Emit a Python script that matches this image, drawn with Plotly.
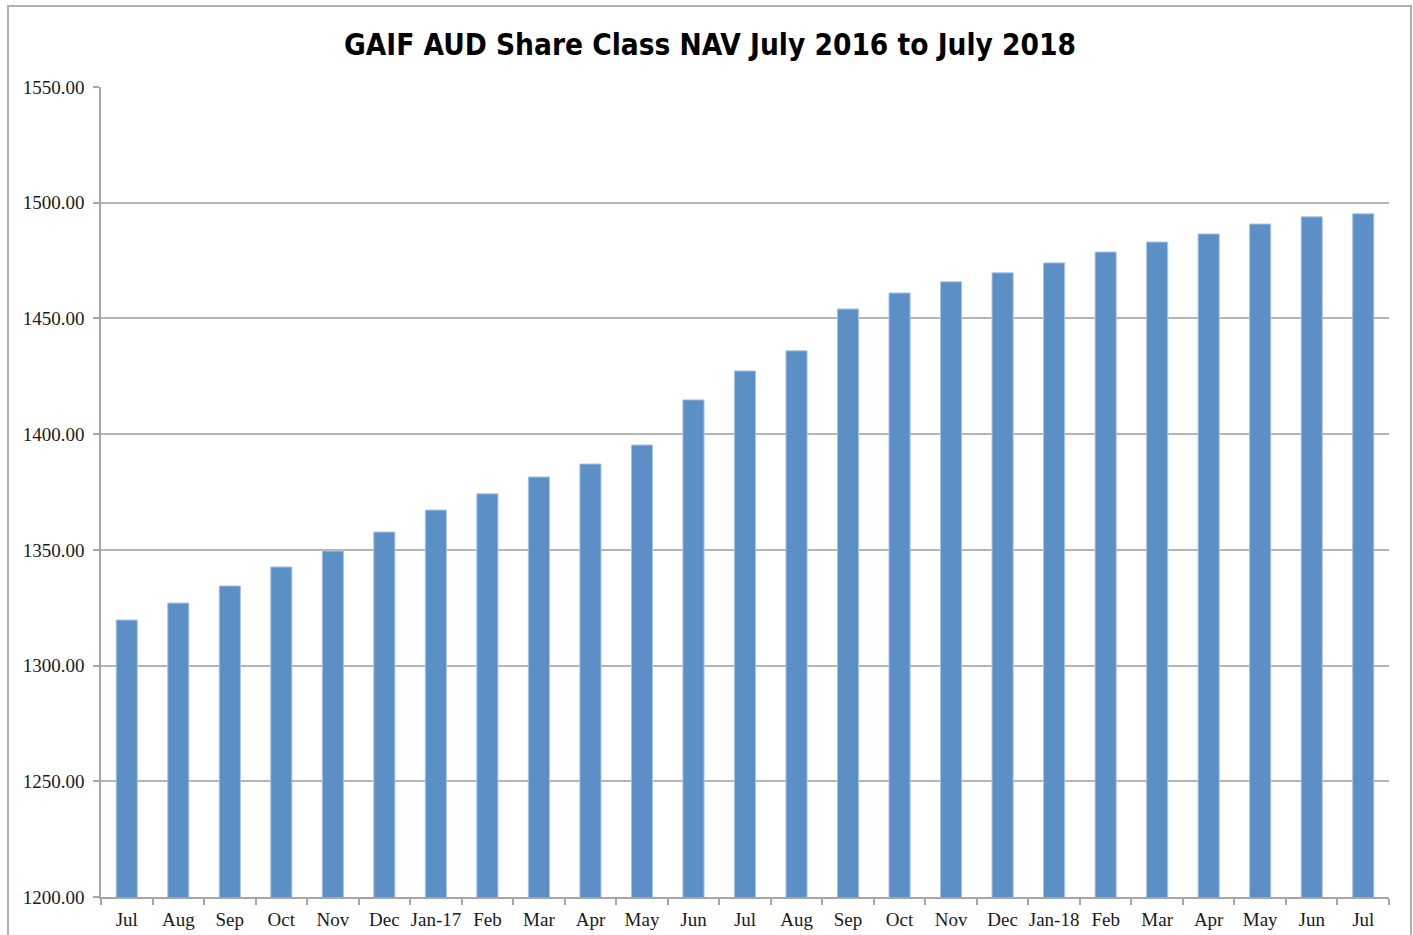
import plotly.graph_objects as go

month_labels = ["Jul", "Aug", "Sep", "Oct", "Nov", "Dec", "Jan-17", "Feb", "Mar", "Apr", "May", "Jun",
                "Jul", "Aug", "Sep", "Oct", "Nov", "Dec", "Jan-18", "Feb", "Mar", "Apr", "May", "Jun", "Jul"]
category_keys = ["2016-07", "2016-08", "2016-09", "2016-10", "2016-11", "2016-12", "2017-01", "2017-02",
                 "2017-03", "2017-04", "2017-05", "2017-06", "2017-07", "2017-08", "2017-09", "2017-10",
                 "2017-11", "2017-12", "2018-01", "2018-02", "2018-03", "2018-04", "2018-05", "2018-06",
                 "2018-07"]
nav_values = [1319.7, 1327.0, 1334.4, 1342.6, 1349.5, 1357.7, 1367.2, 1374.2, 1381.5, 1387.1, 1395.3,
              1414.8, 1427.3, 1436.0, 1454.1, 1461.0, 1465.8, 1469.7, 1474.0, 1478.7, 1483.0, 1486.5,
              1490.8, 1493.9, 1495.2]
y_ticks = [1200, 1250, 1300, 1350, 1400, 1450, 1500, 1550]
y_tick_labels = ["%.2f" % v for v in y_ticks]

fig = go.Figure(go.Bar(
    x=category_keys, y=nav_values,
    marker=dict(color="#5B8FC6", line=dict(color="#A9C4E4", width=1)),
    hoverinfo="x+y",
))

tick_font = dict(family="Liberation Serif, DejaVu Serif, serif", size=19, color="#1a1a1a")

fig.update_layout(
    width=1413, height=935,
    paper_bgcolor="white", plot_bgcolor="white",
    margin=dict(l=101, r=24, t=87, b=38, autoexpand=False),
    bargap=0.59,
    showlegend=False,
    title=dict(text="<b>GAIF AUD Share Class NAV July 2016 to July 2018</b>",
               x=710 / 1413, xref="container", y=0.952, yref="container", xanchor="center", yanchor="middle",
               font=dict(family="DejaVu Sans Condensed, Liberation Sans Narrow, Liberation Sans, sans-serif",
                         size=29.5, color="#000000")),
    xaxis=dict(type="category", tickvals=category_keys, ticktext=month_labels,
               tickson="boundaries", ticks="outside", ticklen=6, tickcolor="#a6a6a6", tickwidth=1.5,
               showline=True, linecolor="#a6a6a6", linewidth=1.5, showgrid=False,
               tickangle=0, automargin=False, ticklabelstandoff=4,
               tickfont=tick_font, fixedrange=True),
    yaxis=dict(range=[1200, 1550], tickvals=y_ticks, ticktext=y_tick_labels,
               ticks="outside", ticklen=6, tickcolor="#a6a6a6", tickwidth=1.5,
               showline=True, linecolor="#a6a6a6", linewidth=1.5, automargin=False,
               showgrid=True, gridcolor="#b5b5b5", gridwidth=1.5, zeroline=False,
               tickfont=tick_font, ticklabelstandoff=5, fixedrange=True),
)

# outer chart border
fig.add_shape(type="rect", xref="paper", yref="paper",
              x0=(8 - 101) / 1288, x1=(1411 - 101) / 1288,
              y0=(897 - 945) / 810, y1=(897 - 6) / 810,
              line=dict(color="#b0b0b0", width=2), fillcolor="rgba(0,0,0,0)", layer="below")

fig.write_html("out.html", config={"displayModeBar": False},
               post_script="document.body.style.margin='0px';document.body.style.overflow='hidden';")
